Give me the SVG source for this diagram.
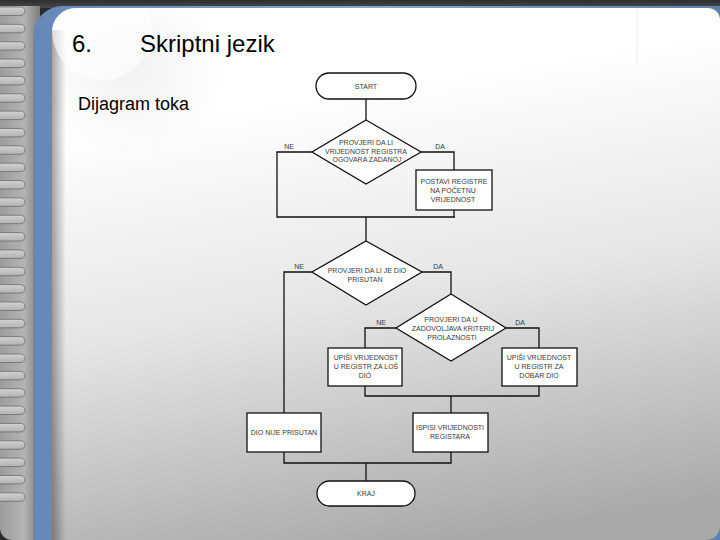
<svg xmlns="http://www.w3.org/2000/svg" width="720" height="540" viewBox="0 0 720 540">
<defs>
<linearGradient id="panelG" x1="0.45" y1="0.15" x2="0.62" y2="1">
<stop offset="0" stop-color="#ffffff"/>
<stop offset="0.45" stop-color="#e6e6e6"/>
<stop offset="1" stop-color="#a9a9a9"/>
</linearGradient>
<linearGradient id="leftG" x1="0" y1="0" x2="1" y2="0">
<stop offset="0" stop-color="#9c9c9c"/>
<stop offset="0.6" stop-color="#b4b4b4"/>
<stop offset="1" stop-color="#7c7c7c"/>
</linearGradient>
<linearGradient id="tabG" x1="0" y1="0" x2="0" y2="1">
<stop offset="0" stop-color="#d2d2d2"/>
<stop offset="1" stop-color="#b2b2b2"/>
</linearGradient>
<linearGradient id="blueG" x1="0" y1="0" x2="1" y2="0">
<stop offset="0" stop-color="#6688b8"/>
<stop offset="0.5" stop-color="#86a6d0"/>
<stop offset="1" stop-color="#5f7fae"/>
</linearGradient>
<linearGradient id="shadowG" x1="0" y1="0" x2="1" y2="0">
<stop offset="0" stop-color="#000" stop-opacity="0.35"/>
<stop offset="1" stop-color="#000" stop-opacity="0"/>
</linearGradient>
<linearGradient id="topG" x1="0" y1="0" x2="0" y2="1">
<stop offset="0" stop-color="#2e2e2e"/>
<stop offset="1" stop-color="#4a4a4a"/>
</linearGradient>
<radialGradient id="cornerShade" cx="0.5" cy="0.5" r="0.5">
<stop offset="0" stop-color="#000" stop-opacity="0.05"/>
<stop offset="1" stop-color="#000" stop-opacity="0"/>
</radialGradient>
<clipPath id="panelClip">
<path d="M52 540 V32 A24 24 0 0 1 76 8 H708 A12 12 0 0 1 720 20 V526 A14 14 0 0 1 706 540 Z"/>
</clipPath>
<pattern id="ticks" x="0" y="0" width="20" height="6" patternUnits="userSpaceOnUse">
<line x1="37" y1="3" x2="47" y2="3" stroke="#c4d6ee" stroke-width="0.8" opacity="0.7"/>
</pattern>
<style>
.title{font-family:"Liberation Sans",Arial,sans-serif;fill:#000}
.t{font-family:"Liberation Sans",Arial,sans-serif;font-size:7px;fill:#3a3a3a;text-anchor:middle}
.shape{fill:#fff;stroke:#111;stroke-width:1.3}
.conn{fill:none;stroke:#111;stroke-width:1.3}
.tab{fill:url(#tabG);stroke:#6c6c6c;stroke-width:0.8}
</style>
</defs>

<!-- background frame -->
<rect x="0" y="0" width="720" height="540" fill="#2a2a2a"/>
<rect x="0" y="0" width="720" height="8" fill="url(#topG)"/>
<path d="M0 6 H40 V540 H12 A12 12 0 0 1 0 528 Z" fill="url(#leftG)"/>
<g>
<rect class="tab" x="-10" y="7" width="35" height="8.5" rx="4.2"/>
<rect class="tab" x="-10" y="24.35" width="35" height="8.5" rx="4.2"/>
<rect class="tab" x="-10" y="41.7" width="35" height="8.5" rx="4.2"/>
<rect class="tab" x="-10" y="59.05" width="35" height="8.5" rx="4.2"/>
<rect class="tab" x="-10" y="76.4" width="35" height="8.5" rx="4.2"/>
<rect class="tab" x="-10" y="93.75" width="35" height="8.5" rx="4.2"/>
<rect class="tab" x="-10" y="111.1" width="35" height="8.5" rx="4.2"/>
<rect class="tab" x="-10" y="128.45" width="35" height="8.5" rx="4.2"/>
<rect class="tab" x="-10" y="145.8" width="35" height="8.5" rx="4.2"/>
<rect class="tab" x="-10" y="163.15" width="35" height="8.5" rx="4.2"/>
<rect class="tab" x="-10" y="180.5" width="35" height="8.5" rx="4.2"/>
<rect class="tab" x="-10" y="197.85" width="35" height="8.5" rx="4.2"/>
<rect class="tab" x="-10" y="215.2" width="35" height="8.5" rx="4.2"/>
<rect class="tab" x="-10" y="232.55" width="35" height="8.5" rx="4.2"/>
<rect class="tab" x="-10" y="249.9" width="35" height="8.5" rx="4.2"/>
<rect class="tab" x="-10" y="267.25" width="35" height="8.5" rx="4.2"/>
<rect class="tab" x="-10" y="284.6" width="35" height="8.5" rx="4.2"/>
<rect class="tab" x="-10" y="301.95" width="35" height="8.5" rx="4.2"/>
<rect class="tab" x="-10" y="319.3" width="35" height="8.5" rx="4.2"/>
<rect class="tab" x="-10" y="336.65" width="35" height="8.5" rx="4.2"/>
<rect class="tab" x="-10" y="354" width="35" height="8.5" rx="4.2"/>
<rect class="tab" x="-10" y="371.35" width="35" height="8.5" rx="4.2"/>
<rect class="tab" x="-10" y="388.7" width="35" height="8.5" rx="4.2"/>
<rect class="tab" x="-10" y="406.05" width="35" height="8.5" rx="4.2"/>
<rect class="tab" x="-10" y="423.4" width="35" height="8.5" rx="4.2"/>
<rect class="tab" x="-10" y="440.75" width="35" height="8.5" rx="4.2"/>
<rect class="tab" x="-10" y="458.1" width="35" height="8.5" rx="4.2"/>
<rect class="tab" x="-10" y="475.45" width="35" height="8.5" rx="4.2"/>
<rect class="tab" x="-10" y="492.8" width="35" height="8.5" rx="4.2"/>
</g>
<!-- blue binding strip -->
<path d="M33 540 V36 A30 30 0 0 1 63 6 H720 V540 Z" fill="url(#blueG)"/>
<rect x="33" y="24" width="19" height="516" fill="url(#ticks)"/>
<!-- panel -->
<path d="M52 540 V32 A24 24 0 0 1 76 8 H708 A12 12 0 0 1 720 20 V526 A14 14 0 0 1 706 540 Z" fill="url(#panelG)"/>
<g clip-path="url(#panelClip)">
<rect x="52" y="30" width="14" height="510" fill="url(#shadowG)"/>
<rect x="30" y="-20" width="200" height="180" fill="url(#cornerShade)"/>
<circle cx="102" cy="30" r="50" fill="#ffffff" opacity="0.6"/>
<line x1="637" y1="8" x2="637" y2="64" stroke="#ececec" stroke-width="1"/>
</g>

<!-- titles -->
<text class="title" x="72" y="52" font-size="24">6.</text>
<text class="title" x="140" y="52" font-size="24">Skriptni jezik</text>
<text class="title" x="78" y="110" font-size="18">Dijagram toka</text>

<!-- connectors -->
<g id="connectors">
<polyline class="conn" points="366,99 366,120"/>
<polyline class="conn" points="312,152 277,152 277,217 455,217"/>
<polyline class="conn" points="421,152 454,152 454,170"/>
<polyline class="conn" points="454,210 454,217"/>
<polyline class="conn" points="366,217 366,241"/>
<polyline class="conn" points="312,272 284,272 284,413"/>
<polyline class="conn" points="422,272 451,272 451,294"/>
<polyline class="conn" points="396,328 365,328 365,348"/>
<polyline class="conn" points="506,328 539,328 539,348"/>
<polyline class="conn" points="365,386 365,396 539,396 539,386"/>
<polyline class="conn" points="451,396 451,413"/>
<polyline class="conn" points="284,452 284,463 451,463 451,452"/>
<polyline class="conn" points="366,463 366,481"/>
</g>

<!-- connector labels -->
<g id="labels">
<text class="t" x="289" y="148.5">NE</text>
<text class="t" x="440" y="148.5">DA</text>
<text class="t" x="299" y="268.5">NE</text>
<text class="t" x="438" y="268.5">DA</text>
<text class="t" x="381" y="324.5">NE</text>
<text class="t" x="520" y="324.5">DA</text>
</g>

<g id="start">
<rect class="shape" x="316" y="73" width="100" height="26" rx="13"/>
<text class="t" x="366" y="88.5">START</text>
</g>

<g id="check-register">
<polygon class="shape" points="366,120 421,152 366,184 312,152"/>
<text class="t" x="366" y="145">PROVJERI  DA LI</text>
<text class="t" x="366" y="153.5">VRIJEDNOST REGISTRA</text>
<text class="t" x="367" y="162">OGOVARA ZADANOJ</text>
</g>

<g id="set-registers">
<rect class="shape" x="416" y="170" width="76" height="40"/>
<text class="t" x="454" y="183.5">POSTAVI REGISTRE</text>
<text class="t" x="453" y="192.5">NA POČETNU</text>
<text class="t" x="453" y="201.5">VRIJEDNOST</text>
</g>

<g id="check-part">
<polygon class="shape" points="366,241 422,272 366,305 312,272"/>
<text class="t" x="367" y="272.5">PROVJERI  DA LI JE DIO</text>
<text class="t" x="365" y="281.5">PRISUTAN</text>
</g>

<g id="check-criteria">
<polygon class="shape" points="451,294 506,328 451,361 396,328"/>
<text class="t" x="451" y="321.5">PROVJERI  DA U</text>
<text class="t" x="453" y="330.5">ZADOVOLJAVA KRITERIJ</text>
<text class="t" x="452" y="339.5">PROLAZNOSTI</text>
</g>

<g id="write-bad">
<rect class="shape" x="328" y="348" width="74" height="38"/>
<text class="t" x="366" y="359.5">UPIŠI VRIJEDNOST</text>
<text class="t" x="366" y="368.5">U REGISTR ZA LOŠ</text>
<text class="t" x="365" y="378">DIÓ</text>
</g>

<g id="write-good">
<rect class="shape" x="502" y="348" width="75" height="38"/>
<text class="t" x="539" y="359.5">UPIŠI VRIJEDNOST</text>
<text class="t" x="539" y="368.5">U REGISTR ZA</text>
<text class="t" x="539" y="378">DOBAR DIO</text>
</g>

<g id="part-missing">
<rect class="shape" x="247" y="413" width="74" height="39"/>
<text class="t" x="284" y="434.5">DIO NIJE PRISUTAN</text>
</g>

<g id="print-registers">
<rect class="shape" x="413" y="413" width="75" height="39"/>
<text class="t" x="450" y="429.5">ISPISI VRIJEDNOSTI</text>
<text class="t" x="450" y="438.5">REGISTARA</text>
</g>

<g id="end">
<rect class="shape" x="317" y="481" width="98" height="25" rx="12.5"/>
<text class="t" x="366" y="496">KRAJ</text>
</g>
</svg>
